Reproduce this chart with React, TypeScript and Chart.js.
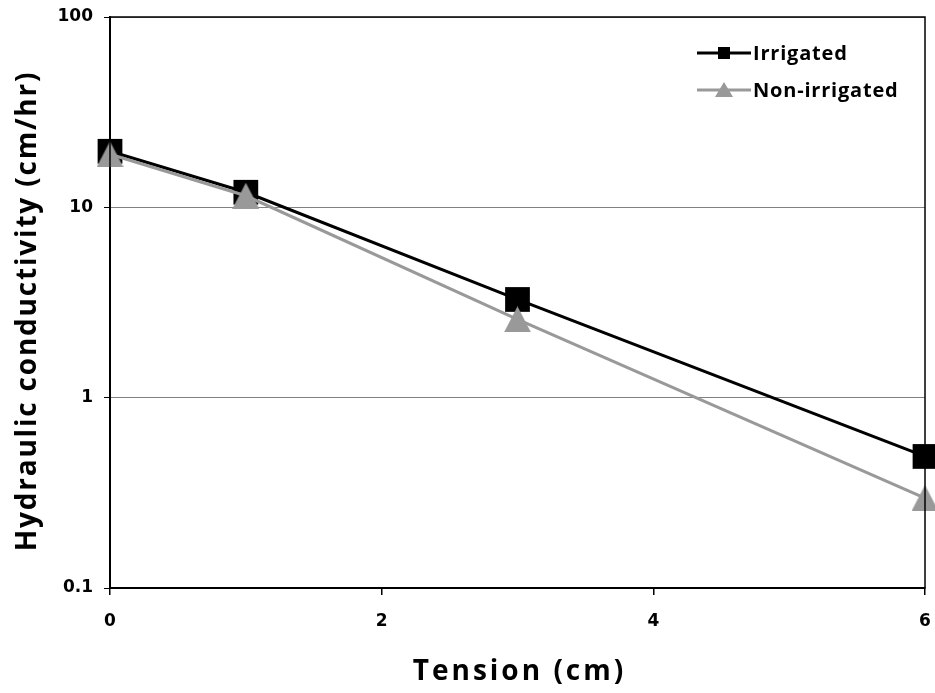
import React, { useEffect, useRef } from "react";
import { Chart, registerables } from "chart.js";
Chart.register(...registerables);

const tension = [0, 1, 3, 6];
const irrigated = [19.7, 12.0, 3.28, 0.491];
const nonIrrigated = [19.0, 11.5, 2.58, 0.297];
const yTicks = [0.1, 1, 10, 100];
const xTicks = [0, 2, 4, 6];
const seriesNames = ["Irrigated", "Non-irrigated"];
const xTitle = "Tension (cm)";
const yTitle = "Hydraulic conductivity (cm/hr)";

const FONT = "'Open Sans', 'DejaVu Sans', sans-serif";
const TICKFONT = "'DejaVu Sans', sans-serif";

function makeTriangle(w: number, h: number, color: string) {
  const c = document.createElement("canvas");
  c.width = w;
  c.height = h;
  const g = c.getContext("2d")!;
  g.fillStyle = color;
  g.beginPath();
  g.moveTo(w / 2, 0);
  g.lineTo(w, h);
  g.lineTo(0, h);
  g.closePath();
  g.fill();
  return c;
}

const frameAndLegend = {
  id: "frameAndLegend",
  afterDatasetsDraw(chart: any) {
    const { ctx, chartArea } = chart;
    ctx.save();
    ctx.strokeStyle = "#000";
    ctx.lineWidth = 1.5;
    ctx.strokeRect(chartArea.left, chartArea.top, chartArea.right - chartArea.left, chartArea.bottom - chartArea.top);
    // legend
    const items = [
      { name: seriesNames[0], color: "#000000", shape: "rect", y: chartArea.top + 36 },
      { name: seriesNames[1], color: "#999999", shape: "tri", y: chartArea.top + 73 },
    ];
    const x0 = chartArea.right - 228;
    for (const it of items) {
      ctx.strokeStyle = it.color;
      ctx.fillStyle = it.color;
      ctx.lineWidth = 3;
      ctx.beginPath();
      ctx.moveTo(x0, it.y);
      ctx.lineTo(x0 + 54, it.y);
      ctx.stroke();
      const cx = x0 + 27;
      if (it.shape === "rect") {
        ctx.fillRect(cx - 6, it.y - 6, 12, 12);
      } else {
        ctx.beginPath();
        ctx.moveTo(cx, it.y - 8);
        ctx.lineTo(cx + 9, it.y + 7);
        ctx.lineTo(cx - 9, it.y + 7);
        ctx.closePath();
        ctx.fill();
      }
      ctx.fillStyle = "#000";
      ctx.font = `bold 20px ${FONT}`;
      (ctx as any).letterSpacing = "0.8px";
      ctx.textBaseline = "middle";
      ctx.textAlign = "left";
      ctx.fillText(it.name, x0 + 56, it.y + 1);
    }
    // axis titles
    ctx.fillStyle = "#000";
    ctx.font = `bold 28px ${FONT}`;
    ctx.textAlign = "center";
    ctx.textBaseline = "middle";
    (ctx as any).letterSpacing = "3px";
    ctx.fillText(xTitle, (chartArea.left + chartArea.right) / 2 + 2, 672);
    ctx.translate(28, 311);
    ctx.rotate(-Math.PI / 2);
    (ctx as any).letterSpacing = "1.8px";
    ctx.fillText(yTitle, 0, 0);
    ctx.restore();
  },
};

export default function App() {
  const ref = useRef<HTMLCanvasElement | null>(null);
  useEffect(() => {
    if (!ref.current) return;
    const tri = makeTriangle(27, 26, "#999999");
    const chart = new Chart(ref.current, {
      type: "line",
      data: {
        datasets: [
          {
            label: seriesNames[0],
            data: tension.map((x, i) => ({ x, y: irrigated[i] })),
            borderColor: "#000000",
            backgroundColor: "#000000",
            borderWidth: 3,
            pointStyle: "rect",
            pointRadius: 17.5,
            pointBorderWidth: 0,
            tension: 0,
            clip: false,
            order: 1,
          },
          {
            label: seriesNames[1],
            data: tension.map((x, i) => ({ x, y: nonIrrigated[i] })),
            borderColor: "#999999",
            backgroundColor: "#999999",
            borderWidth: 3,
            pointStyle: tri,
            pointRadius: 14,
            pointBorderWidth: 0,
            tension: 0,
            clip: false,
            order: 0,
          },
        ],
      },
      options: {
        animation: false,
        responsive: false,
        layout: { autoPadding: false, padding: { top: 17, right: 10, bottom: 0, left: 0 } },
        plugins: { legend: { display: false }, tooltip: { enabled: false } },
        scales: {
          x: {
            type: "linear",
            min: 0,
            max: 6,
            afterBuildTicks: (s: any) => {
              s.ticks = xTicks.map((v) => ({ value: v }));
            },
            afterFit: (s: any) => {
              s.height = 105;
              s.paddingRight = 0;
              s.paddingLeft = 0;
            },
            grid: { drawOnChartArea: false, drawTicks: true, tickLength: 7, color: "#000", lineWidth: 1.5 },
            border: { color: "#000", width: 2 },
            ticks: { color: "#000", font: { family: TICKFONT, weight: "bold", size: 17 }, padding: 16, maxRotation: 0 },
          },
          y: {
            type: "logarithmic",
            min: 0.1,
            max: 100,
            afterBuildTicks: (s: any) => {
              s.ticks = yTicks.map((v) => ({ value: v }));
            },
            afterFit: (s: any) => {
              s.width = 110;
              s.paddingTop = 0;
              s.paddingBottom = 0;
            },
            grid: {
              drawTicks: true,
              tickLength: 6,
              color: "#808080",
              tickColor: "#000",
              lineWidth: 1,
            },
            border: { color: "#000", width: 2 },
            ticks: {
              color: "#000",
              font: { family: TICKFONT, weight: "bold", size: 17 },
              padding: 11,
              callback: (v: any) => String(v),
            },
          },
        },
      } as any,
      plugins: [frameAndLegend],
    });
    return () => chart.destroy();
  }, []);
  return (
    <div style={{ position: "fixed", left: 0, top: 0, width: 935, height: 693, background: "#fff" }}>
      <canvas ref={ref} width={935} height={693} style={{ width: 935, height: 693, display: "block" }} />
    </div>
  );
}
